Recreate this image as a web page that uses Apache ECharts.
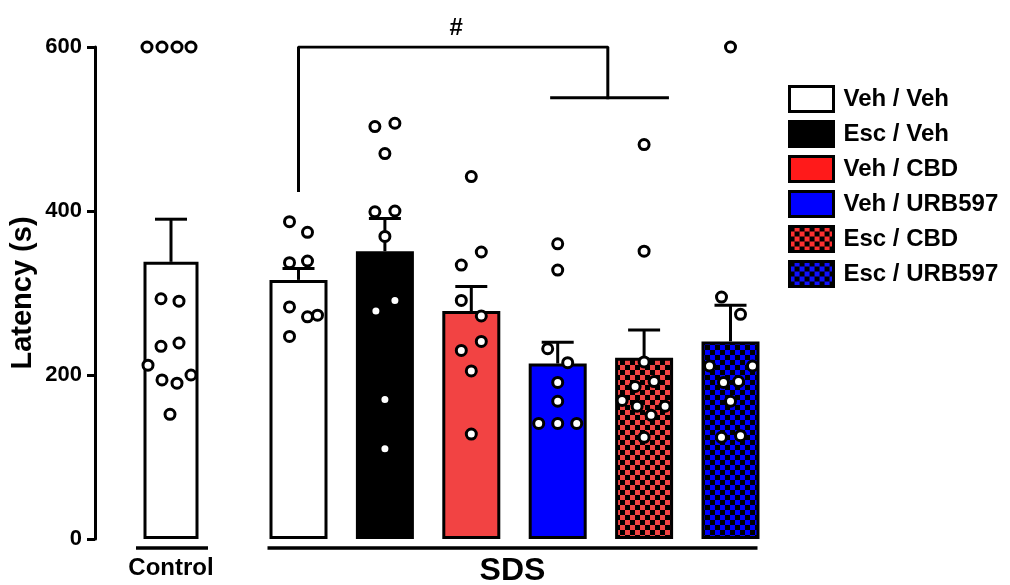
<!DOCTYPE html>
<html><head><meta charset="utf-8">
<script src="https://cdn.jsdelivr.net/npm/echarts@6/dist/echarts.min.js"></script>
<style>html,body{margin:0;padding:0;background:#fff}#c{width:1010px;height:585px}</style>
</head><body><div id="c"></div>
<script>
// ---------- data ----------
const controlLabel = 'Control';
const groupLabel = 'SDS';
const sdsGroups = ['Veh / Veh', 'Esc / Veh', 'Veh / CBD', 'Veh / URB597', 'Esc / CBD', 'Esc / URB597'];
const controlMean = 338;
const controlSem = 52;
const sdsMeans = [316, 351, 278, 214, 221, 241];
const sdsSems = [14, 40, 30, 26, 34, 44];
const controlPoints = [600, 600, 600, 600, 293, 290, 235, 239, 212, 200, 194, 190, 152];
const sdsPoints = [
  [387, 374, 337, 339, 283, 271, 273, 247],
  [503, 507, 470, 399, 400, 369, 278, 291, 170, 110],
  [442, 350, 334, 291, 272, 241, 230, 205, 128],
  [360, 328, 232, 215, 191, 168, 141, 141, 141],
  [481, 351, 216, 186, 192, 169, 162, 151, 162, 124],
  [600, 295, 274, 211, 211, 191, 192, 168, 124, 126]
];
// horizontal scatter jitter of each point (pixels)
const controlJitter = [-24, -9, 6, 20, -10, 8, -10, 8, -23, 20, -9, 6, -1];
const sdsJitter = [
  [-9, 9, -9, 9, -9, 9, 19, -9],
  [-10, 10, 0, -10, 10, 0, -9, 10, 0, 0],
  [0, 10, -10, -10, 10, 10, -10, 0, 0],
  [0, 0, -10, 10, 0, 0, -19, 0, 19],
  [0, 0, 0, -9, 10, -22, -7, 7, 21, 0],
  [0, -9, 10, -21, 22, -7, 8, 0, -9, 10]
];
const yTicks = [0, 200, 400, 600];
const significanceLabel = '#';
// bracket: from group 0 to the middle of the lower bar (x in group units, y in seconds)
const bracketLeftX = 0, bracketLeftLow = 425, bracketTopY = 600;
const bracketMidX = 3.58, bracketLowY = 538, bracketLowFrom = 2.93, bracketLowTo = 4.27;

// ---------- styles ----------
const FONT = 'Liberation Sans, Arial, sans-serif';
function checker(fg) {
  const c = document.createElement('canvas');
  c.width = c.height = 10;
  const g = c.getContext('2d');
  g.fillStyle = fg; g.fillRect(0, 0, 10, 10);
  g.fillStyle = '#000'; g.fillRect(0, 0, 5, 5); g.fillRect(5, 5, 5, 5);
  return c;
}
const barColors = ['#ffffff', '#000000', '#f24343', '#0000ff',
  { image: checker('#f24343'), repeat: 'repeat' },
  { image: checker('#0000ff'), repeat: 'repeat' }];
const legendColors = ['#ffffff', '#000000', '#ff1a1a', '#0000ff',
  { image: checker('#ff3030'), repeat: 'repeat' },
  { image: checker('#1010ff'), repeat: 'repeat' }];

const chart = echarts.init(document.getElementById('c'));

function errRender(params, api) {
  const x = api.value(0), m = api.value(1), s = api.value(2);
  const p0 = api.coord([x, m]);
  const p1 = api.coord([x, m + s]);
  const hw = 16;
  const st = { stroke: '#000', lineWidth: 3 };
  return { type: 'group', children: [
    { type: 'line', shape: { x1: p0[0], y1: p0[1], x2: p1[0], y2: p1[1] }, style: st },
    { type: 'line', shape: { x1: p1[0] - hw, y1: p1[1], x2: p1[0] + hw, y2: p1[1] }, style: st }
  ] };
}

const series = [];
series.push({
  type: 'bar', name: controlLabel, xAxisIndex: 0, yAxisIndex: 0, data: [controlMean], barWidth: 55,
  itemStyle: { color: '#fff', borderColor: '#000', borderWidth: 3 }, z: 2, silent: true
});
sdsGroups.forEach((g, i) => {
  series.push({
    type: 'bar', name: g, xAxisIndex: 1, yAxisIndex: 1, barWidth: 58, barGap: '-100%',
    data: sdsMeans.map((v, k) => k === i ? v : '-'),
    itemStyle: { color: barColors[i], borderColor: '#000', borderWidth: 3 }, z: 2, silent: true
  });
});
series.push({
  type: 'custom', xAxisIndex: 0, yAxisIndex: 0, renderItem: errRender, z: 3, silent: true,
  encode: { x: 0, y: 1 }, data: [[0, controlMean, controlSem]]
});
series.push({
  type: 'custom', xAxisIndex: 1, yAxisIndex: 1, renderItem: errRender, z: 3, silent: true,
  encode: { x: 0, y: 1 }, data: sdsMeans.map((m, i) => [i, m, sdsSems[i]])
});
const dotStyle = { color: '#fff', borderColor: '#000', borderWidth: 3, opacity: 1 };
series.push({
  type: 'scatter', xAxisIndex: 0, yAxisIndex: 0, symbolSize: 10, itemStyle: dotStyle, z: 5, silent: true,
  data: controlPoints.map((v, k) => ({ value: [0, v], symbolOffset: [controlJitter[k], 0] }))
});
const sdsDots = [];
sdsPoints.forEach((arr, i) => arr.forEach((v, k) => sdsDots.push({ value: [i, v], symbolOffset: [sdsJitter[i][k], 0] })));
series.push({
  type: 'scatter', xAxisIndex: 1, yAxisIndex: 1, symbolSize: 10, itemStyle: dotStyle, z: 5, silent: true,
  data: sdsDots
});
const bracketStyle = { color: '#000', width: 3, cap: 'square' };
series.push({
  type: 'line', xAxisIndex: 2, yAxisIndex: 1, symbol: 'none', silent: true, lineStyle: bracketStyle, z: 4,
  data: [[bracketLeftX, bracketLeftLow], [bracketLeftX, bracketTopY], [bracketMidX, bracketTopY], [bracketMidX, bracketLowY]]
});
series.push({
  type: 'line', xAxisIndex: 2, yAxisIndex: 1, symbol: 'none', silent: true, lineStyle: bracketStyle, z: 4,
  data: [[bracketLowFrom, bracketLowY], [bracketLowTo, bracketLowY]]
});

const yCommon = { type: 'value', min: yTicks[0], max: yTicks[yTicks.length - 1], interval: yTicks[1] - yTicks[0], splitLine: { show: false } };

chart.setOption({
  animation: false,
  backgroundColor: '#fff',
  textStyle: { fontFamily: FONT },
  grid: [
    { left: 95, width: 152, top: 47, bottom: 46 },
    { left: 255.3, width: 518.4, top: 47, bottom: 46 }
  ],
  xAxis: [
    { type: 'category', gridIndex: 0, data: [controlLabel], axisLine: { show: false }, axisTick: { show: false }, axisLabel: { show: false } },
    { type: 'category', gridIndex: 1, data: sdsGroups, axisLine: { show: false }, axisTick: { show: false }, axisLabel: { show: false } },
    { type: 'value', gridIndex: 1, min: -0.5, max: sdsGroups.length - 0.5, show: false }
  ],
  yAxis: [
    Object.assign({}, yCommon, {
      gridIndex: 0,
      name: 'Latency (s)', nameLocation: 'middle', nameGap: 58,
      nameTextStyle: { fontSize: 29, fontWeight: 'bold', color: '#000', fontFamily: FONT },
      axisLine: { show: true, lineStyle: { color: '#000', width: 3 } },
      axisTick: { show: true, length: 8, lineStyle: { color: '#000', width: 3 } },
      axisLabel: { fontSize: 22, fontWeight: 'bold', color: '#000', margin: 13, fontFamily: FONT }
    }),
    Object.assign({}, yCommon, { gridIndex: 1, show: false })
  ],
  legend: {
    orient: 'vertical', left: 783, top: 80, itemWidth: 44, itemHeight: 25, itemGap: 7,
    icon: 'rect', selectedMode: false,
    textStyle: { fontSize: 24, fontWeight: 'bold', color: '#000', fontFamily: FONT, padding: [0, 0, 0, 5] },
    data: sdsGroups.map((g, i) => ({ name: g, itemStyle: { color: legendColors[i], borderColor: '#000', borderWidth: 3 } }))
  },
  series: series
});

// group underlines and labels, positioned from the axes
const c0 = chart.convertToPixel({ xAxisIndex: 0, yAxisIndex: 0 }, [0, 0]);
const s0 = chart.convertToPixel({ xAxisIndex: 1, yAxisIndex: 1 }, [0, 0]);
const s5 = chart.convertToPixel({ xAxisIndex: 1, yAxisIndex: 1 }, [sdsGroups.length - 1, 0]);
const hashPos = chart.convertToPixel({ xAxisIndex: 2, yAxisIndex: 1 }, [(bracketLeftX + bracketMidX) / 2, bracketTopY]);
const lineY = c0[1] + 9;
chart.setOption({
  graphic: [
    { type: 'line', shape: { x1: c0[0] - 35, y1: lineY, x2: c0[0] + 37, y2: lineY }, style: { stroke: '#000', lineWidth: 3.5 }, silent: true },
    { type: 'line', shape: { x1: s0[0] - 31, y1: lineY, x2: s5[0] + 27, y2: lineY }, style: { stroke: '#000', lineWidth: 3.5 }, silent: true },
    { type: 'text', x: c0[0], y: c0[1] + 29, silent: true,
      style: { text: controlLabel, fill: '#000', font: 'bold 24px ' + FONT, textAlign: 'center', textVerticalAlign: 'middle' } },
    { type: 'text', x: (s0[0] - 31 + s5[0] + 27) / 2, y: c0[1] + 32, silent: true,
      style: { text: groupLabel, fill: '#000', font: 'bold 32px ' + FONT, textAlign: 'center', textVerticalAlign: 'middle' } },
    { type: 'text', x: hashPos[0] + 3, y: hashPos[1] - 19, silent: true,
      style: { text: significanceLabel, fill: '#000', font: 'bold 24px ' + FONT, textAlign: 'center', textVerticalAlign: 'middle' } }
  ]
});
</script>
</body></html>
